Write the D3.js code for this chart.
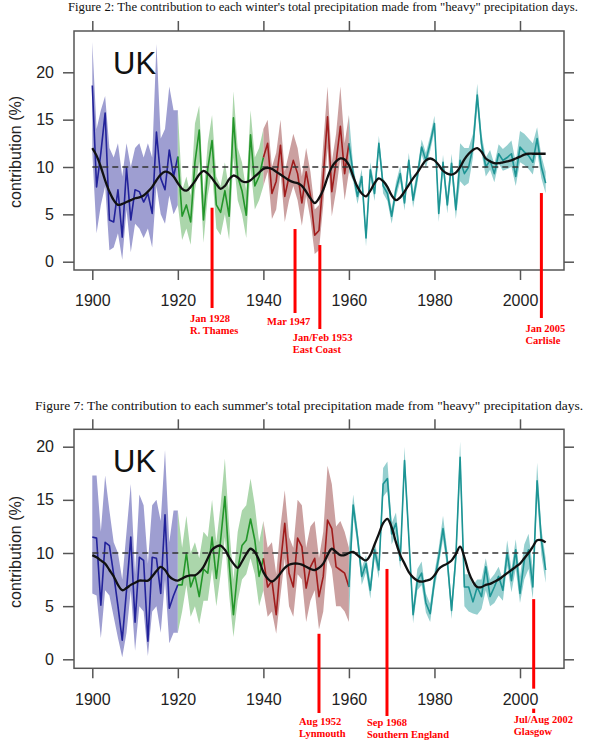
<!DOCTYPE html>
<html><head><meta charset="utf-8">
<script src="https://cdn.jsdelivr.net/npm/d3@7"></script>
<style>body{margin:0;background:#fff}svg{display:block}</style>
</head><body>
<svg id="c" width="590" height="750"></svg>
<script>
// ---------------- DATA ----------------
const firstYear = 1900;
const periodBreaks = [1900, 1920, 1940, 1960, 2006];
const xTicks = [1900, 1920, 1940, 1960, 1980, 2000];
const yTicks = [0, 5, 10, 15, 20];
const refLevel = 10;
const refEnd = 2005;

// Winter (Figure 2), one value per year 1900-2006
const winterValue = [
  18.6, 7.9, 11.5, 15.7, 4.4, 4.2, 7.6, 2.6, 9.9, 4.4, 7.6, 7.4, 6.3, 7.2, 5.1, 13.7, 8.8, 7.6, 11.8, 9.0, 11.1,
  4.8, 6.0, 4.2, 10.5, 13.9, 4.4, 9.8, 12.8, 6.0, 5.2, 7.5, 4.8, 15.2, 9.0, 7.5, 4.9, 13.4, 8.0, 9.0, 11.0,
  12.5, 7.2, 8.5, 12.3, 6.9, 9.0, 10.7, 9.3, 6.2, 9.5, 7.0, 2.8, 3.3, 9.0, 15.3, 7.4, 10.5, 14.3, 9.3, 12.5,
  9.3, 6.9, 9.0, 2.5, 9.7, 7.2, 12.5, 8.0, 7.2, 4.8, 7.6, 9.3, 6.2, 10.7, 6.5, 9.0, 12.1, 10.7, 12.5, 14.6,
  5.1, 10.5, 6.0, 10.4, 5.5, 10.7, 9.3, 10.0, 12.1, 17.6, 12.5, 10.0, 10.7, 9.3, 11.4, 10.7, 11.0, 11.4, 9.0, 12.1,
  11.6, 11.2, 10.5, 13.0, 10.0, 8.3
];
const winterHi = [
  23.2, 14, 16, 17.5, 12, 11, 12.5, 9, 12.5, 10, 12, 12.5, 11, 12.5, 11, 23, 13, 14, 18.5, 16, 16,
  7.5, 9.0, 7.0, 14.6, 16.5, 7.0, 12.5, 15.5, 9.0, 8.0, 10.5, 7.5, 18.0, 12.0, 10.5, 7.5, 16.0, 11.0, 12.0, 14.0,
  15.0, 10.0, 11.5, 15.0, 9.5, 11.5, 13.5, 12.0, 9.0, 12.0, 9.5, 5.5, 6.0, 12.5, 18.5, 10.5, 13.5, 18.5, 12.5, 15.5,
  10.1, 7.7, 9.8, 3.4, 10.5, 8.0, 13.3, 8.8, 8.0, 5.6, 8.4, 10.1, 7.0, 11.5, 7.3, 9.8, 12.9, 11.5, 13.3, 15.4,
  6.0, 11.3, 6.9, 11.4, 6.6, 12.5, 12.0, 12.0, 13.5, 18.8, 13.5, 11.0, 11.8, 10.3, 12.4, 11.9, 12.3, 12.8, 10.5, 13.8,
  13.5, 13.0, 12.5, 14.2, 11.2, 9.5
];
const winterLo = [
  11.5, 3, 6, 8, 1.2, 1.5, 3, 0.2, 5.5, 1, 4, 3.5, 2.5, 3.5, 1.5, 8, 5, 4, 7, 5, 6,
  2.3, 3.5, 1.8, 7.5, 10.5, 2.0, 7.0, 9.5, 3.5, 2.8, 5.0, 2.3, 11.0, 6.5, 5.0, 2.5, 10.0, 5.5, 6.5, 8.0,
  9.5, 4.5, 5.5, 9.5, 4.2, 6.5, 8.0, 6.5, 3.8, 7.0, 4.5, 0.8, 1.2, 6.0, 12.0, 4.8, 7.5, 11.0, 6.5, 9.5,
  8.5, 6.1, 8.2, 1.6, 8.9, 6.4, 11.7, 7.2, 6.4, 4.0, 6.8, 8.5, 5.4, 9.9, 5.7, 8.2, 11.3, 9.9, 11.7, 13.8,
  4.2, 9.7, 5.1, 9.4, 4.5, 8.5, 8.0, 8.3, 11.0, 16.4, 11.5, 9.0, 9.7, 8.4, 10.4, 9.6, 9.8, 10.0, 8.0, 10.5,
  10.2, 9.8, 9.2, 11.6, 8.8, 7.2
];
const winterSmooth = [
  12.0, 11.2, 10.0, 8.6, 7.4, 6.5, 6.0, 6.1, 6.3, 6.5,
  6.7, 6.8, 7.0, 7.4, 7.9, 8.6, 9.2, 9.5, 9.4, 9.0,
  8.3, 7.7, 7.5, 7.9, 8.5, 9.2, 9.6, 9.3, 8.8, 8.2,
  7.7, 8.0, 8.7, 9.1, 8.9, 8.5, 8.4, 8.6, 9.0, 9.4,
  9.8, 9.9, 9.8, 9.5, 9.2, 8.9, 8.6, 8.4, 8.3, 8.0,
  7.4, 6.7, 6.2, 6.7, 7.6, 8.9, 10.0, 10.6, 10.9, 10.8,
  10.2, 9.0, 7.9, 7.2, 6.9, 7.5, 8.3, 8.8, 8.5, 7.9,
  7.0, 6.5, 6.8, 7.4, 8.1, 8.8, 9.4, 10.1, 10.7, 10.9,
  10.7, 10.2, 9.6, 9.3, 9.2, 9.4, 10.0, 10.8, 11.4, 11.8,
  12.0, 11.6, 10.9, 10.6, 10.4, 10.4, 10.5, 10.6, 10.7, 10.9,
  11.1, 11.3, 11.4, 11.4, 11.4, 11.4, 11.4
];
const winterEventDates = [1928.0, 1947.4, 1953.2, 2005.0];
const winterEventTops = [5.7, 3.45, 1.76, 7.25];
const winterEventLabels = [["Jan 1928", "R. Thames"], ["Mar 1947"], ["Jan/Feb 1953", "East Coast"], ["Jan 2005", "Carlisle"]];

// Summer (Figure 7), one value per year 1900-2006
const summerValue = [
  11.5, 11.4, 5.1, 11.0, 10.7, 8.0, 5.0, 1.8, 6.5, 11.5, 3.5, 9.6, 9.3, 1.7, 9.6, 9.5, 6.2, 13.6, 4.8, 6.0, 7.0,
  7.0, 10.0, 6.8, 7.9, 5.9, 8.5, 8.1, 11.5, 7.6, 11.2, 15.3, 9.0, 4.2, 8.4, 10.7, 11.2, 13.2, 11.2, 7.8, 9.5,
  6.8, 7.4, 4.2, 9.0, 12.8, 8.1, 6.8, 11.4, 10.6, 6.7, 8.7, 9.5, 5.9, 7.8, 13.1, 12.3, 8.7, 8.4, 8.1, 6.8,
  14.5, 11.5, 7.8, 9.0, 6.5, 10.3, 8.4, 16.5, 17.0, 11.8, 12.8, 9.3, 18.7, 11.5, 4.2, 7.4, 8.1, 5.3, 4.3, 7.4,
  9.6, 12.3, 9.3, 4.6, 9.6, 19.0, 6.8, 6.8, 5.4, 6.8, 5.9, 8.7, 5.9, 6.8, 7.8, 6.5, 10.0, 7.4, 10.3, 6.2,
  9.3, 10.3, 6.8, 16.8, 11.2, 8.4
];
const summerHi = [
  17.3, 17.3, 12, 17.3, 14, 11, 10, 7.5, 12, 16.5, 8, 15.5, 14.5, 9, 14.5, 15, 13, 19.7, 11, 14, 14,
  10.5, 13.5, 10.0, 11.0, 9.5, 12.0, 11.5, 15.0, 11.0, 14.5, 18.9, 12.5, 7.5, 12.0, 14.0, 14.5, 17.0, 14.5, 11.0, 13.0,
  10.5, 11.0, 8.0, 12.5, 15.9, 11.5, 10.5, 15.0, 14.5, 10.5, 12.5, 13.0, 9.5, 12.0, 18.2, 16.5, 12.5, 13.0, 12.0, 10.5,
  15.5, 12.3, 8.6, 9.8, 7.3, 11.1, 9.2, 18.0, 18.6, 12.8, 13.8, 10.1, 20.0, 12.3, 5.0, 8.5, 9.2, 6.2, 5.2, 8.2,
  10.5, 13.5, 10.2, 5.5, 10.6, 20.5, 8.0, 8.0, 7.0, 7.5, 7.5, 9.5, 7.5, 8.0, 8.7, 7.5, 11.2, 8.5, 11.3, 7.8,
  10.8, 11.8, 8.5, 18.5, 12.3, 9.5
];
const summerLo = [
  6.2, 6, 2, 6.5, 6, 4, 2, 0.2, 2.5, 6.5, 0.8, 5, 4.5, 0.3, 4.5, 5, 2.5, 7.5, 1.5, 2.5, 2.5,
  4.5, 7.0, 4.0, 5.0, 3.3, 5.5, 5.5, 8.5, 5.0, 8.0, 11.5, 6.0, 2.1, 5.5, 7.5, 8.0, 9.5, 8.0, 5.0, 6.5,
  4.0, 4.5, 2.4, 6.0, 9.5, 5.0, 4.0, 8.0, 7.5, 3.5, 5.5, 6.5, 2.8, 4.5, 9.5, 8.5, 5.0, 5.0, 4.5, 3.5,
  13.5, 10.7, 7.0, 8.2, 5.7, 9.5, 7.6, 15.3, 15.8, 10.8, 11.8, 8.5, 17.5, 10.7, 3.4, 6.5, 7.0, 4.4, 3.5, 6.6,
  8.8, 11.3, 8.4, 3.8, 8.6, 17.6, 5.0, 4.5, 4.3, 4.2, 4.7, 6.5, 5.0, 5.3, 6.0, 5.5, 8.8, 6.3, 8.5, 5.3,
  7.5, 8.5, 5.7, 15.2, 9.8, 7.2
];
const summerSmooth = [
  9.8, 9.6, 9.3, 9.0, 8.4, 7.8, 7.0, 6.5, 6.7, 7.0,
  7.2, 7.4, 7.4, 7.4, 7.8, 8.3, 8.7, 8.4, 7.8, 7.5,
  7.4, 7.6, 7.8, 7.9, 7.9, 8.2, 8.7, 9.5, 10.3, 10.6,
  10.7, 10.3, 9.6, 9.0, 8.6, 9.2, 9.9, 10.4, 10.1, 9.3,
  8.2, 7.6, 7.3, 7.6, 8.1, 8.6, 8.9, 9.0, 9.0, 8.9,
  8.7, 8.5, 8.4, 8.6, 9.0, 9.8, 10.4, 10.1, 9.8, 9.8,
  10.0, 10.1, 9.8, 9.5, 9.3, 9.8, 10.8, 11.8, 12.8, 13.2,
  12.4, 11.0, 9.8, 9.0, 8.2, 7.7, 7.4, 7.3, 7.4, 7.5,
  7.9, 8.5, 8.8, 9.0, 9.3, 9.9, 10.6, 9.6, 8.2, 7.3,
  6.8, 6.8, 7.0, 7.1, 7.3, 7.5, 7.8, 8.1, 8.4, 8.7,
  9.0, 9.5, 10.0, 10.6, 11.2, 11.2, 11.0
];
const summerEventDates = [1953.0, 1968.9, 2003.2];
const summerEventTops = [2.4, 8.5, 5.66];
const summerEventLabels = [["Aug 1952", "Lynmouth"], ["Sep 1968", "Southern England"], ["Jul/Aug 2002", "Glasgow"]];

// ---------------- STYLE / LAYOUT ----------------
const periodLine = ["#22229a", "#23962a", "#a01c1c", "#1c9494"];
const periodBand = ["#9e9ed1", "#abd6ab", "#cba0a0", "#95cfcf"];
const frameColor = "#555";
const sans = "'Liberation Sans', Arial, Helvetica, sans-serif";
const serif = "'Liberation Serif', 'Times New Roman', serif";

const svg = d3.select("#c");

function drawChart(c) {
  const g = svg.append("g");
  const x = d3.scaleLinear().domain([1900, 2000]).range([92.3, 520]);
  const y = d3.scaleLinear().domain([0, 20]).range([c.y0, c.y20]);
  const yr = i => firstYear + i;

  // title
  g.append("text").attr("x", c.titleX).attr("y", c.titleY)
    .attr("text-anchor", "middle").attr("font-family", serif)
    .attr("font-size", c.titleSize).attr("fill", "#111")
    .attr("textLength", c.titleLen).attr("lengthAdjust", "spacingAndGlyphs")
    .text(c.title);

  // bands
  for (let p = 0; p < 4; p++) {
    const idx = d3.range(periodBreaks[p] - firstYear, periodBreaks[p + 1] - firstYear + 1);
    g.append("path").datum(idx).attr("fill", periodBand[p])
      .attr("d", d3.area().x(i => x(yr(i))).y0(i => y(c.lo[i])).y1(i => y(c.hi[i])));
  }
  // lines
  for (let p = 0; p < 4; p++) {
    const idx = d3.range(periodBreaks[p] - firstYear, periodBreaks[p + 1] - firstYear + 1);
    g.append("path").datum(idx).attr("fill", "none").attr("stroke", periodLine[p])
      .attr("stroke-width", 1.6).attr("stroke-linejoin", "round")
      .attr("d", d3.line().x(i => x(yr(i))).y(i => y(c.values[i])));
  }
  // reference dashed line
  g.append("line").attr("x1", x(firstYear)).attr("x2", x(refEnd))
    .attr("y1", y(refLevel)).attr("y2", y(refLevel))
    .attr("stroke", "#333").attr("stroke-width", 1.5).attr("stroke-dasharray", "6,4");
  // smooth
  g.append("path").datum(c.smooth).attr("fill", "none").attr("stroke", "#111")
    .attr("stroke-width", 2.3)
    .attr("d", d3.line().curve(d3.curveCatmullRom).x((d, i) => x(yr(i))).y(d => y(d)));

  // frame
  g.append("rect").attr("x", 74).attr("y", c.boxTop).attr("width", 490)
    .attr("height", c.boxBottom - c.boxTop).attr("fill", "none")
    .attr("stroke", frameColor).attr("stroke-width", 1.5);

  // red event lines
  c.eventDates.forEach((d, k) => {
    g.append("line").attr("x1", x(d)).attr("x2", x(d))
      .attr("y1", y(c.eventTops[k])).attr("y2", c.eventLayout[k].bottom)
      .attr("stroke", "#ff0000").attr("stroke-width", 3);
    c.eventLabels[k].forEach((t, j) => {
      g.append("text").attr("x", x(d) + c.eventLayout[k].dx)
        .attr("y", c.eventLayout[k].ty + j * 12)
        .attr("font-family", serif).attr("font-weight", "bold")
        .attr("font-size", 10.5).attr("fill", "#ff0000").text(t);
    });
  });

  // axes
  const styleAxis = sel => {
    sel.select(".domain").remove();
    sel.selectAll(".tick line").attr("stroke", frameColor).attr("stroke-width", 1.5);
    sel.selectAll(".tick text").attr("font-family", sans).attr("font-size", 16).attr("fill", "#222");
  };
  const bx = g.append("g").attr("transform", `translate(0,${c.boxBottom})`)
    .call(d3.axisBottom(x).tickValues(xTicks).tickFormat(d3.format("d")).tickSize(10).tickPadding(15));
  styleAxis(bx);
  bx.selectAll(".tick").each(function () {
    const t = d3.select(this);
    const bb = t.select("text").node().getBBox();
    t.insert("rect", "text").attr("x", bb.x - 1).attr("y", bb.y - 2)
      .attr("width", bb.width + 2).attr("height", bb.height + 3).attr("fill", "#fff");
  });
  const tx = g.append("g").attr("transform", `translate(0,${c.boxTop})`)
    .call(d3.axisTop(x).tickValues(xTicks).tickFormat("").tickSize(10));
  styleAxis(tx);
  const ly = g.append("g").attr("transform", "translate(74,0)")
    .call(d3.axisLeft(y).tickValues(yTicks).tickSize(11).tickPadding(9));
  styleAxis(ly);
  const ry = g.append("g").attr("transform", "translate(564,0)")
    .call(d3.axisRight(y).tickValues(yTicks).tickFormat("").tickSize(10));
  styleAxis(ry);

  // y label
  g.append("text").attr("transform", `translate(21,${c.ylabY}) rotate(-90)`)
    .attr("text-anchor", "middle").attr("font-family", sans).attr("font-size", 16)
    .attr("fill", "#222").text("contribution (%)");
  // UK
  g.append("text").attr("x", 113).attr("y", c.ukY).attr("font-family", sans)
    .attr("font-size", 31).attr("fill", "#111").text("UK");
}

drawChart({
  title: "Figure 2: The contribution to each winter's total precipitation made from \"heavy\" precipitation days.",
  titleX: 323, titleY: 10.5, titleSize: 12.5, titleLen: 510,
  values: winterValue, hi: winterHi, lo: winterLo, smooth: winterSmooth,
  y0: 261.7, y20: 72.3, boxTop: 31, boxBottom: 270, ylabY: 152, ukY: 73.5,
  eventDates: winterEventDates, eventTops: winterEventTops, eventLabels: winterEventLabels,
  eventLayout: [{dx: -22, bottom: 308, ty: 321.7}, {dx: -28, bottom: 313, ty: 325},
                {dx: -27, bottom: 329, ty: 341}, {dx: -16, bottom: 318, ty: 331.7}]
});
drawChart({
  title: "Figure 7: The contribution to each summer's total precipitation made from \"heavy\" precipitation days.",
  titleX: 309, titleY: 409.5, titleSize: 13, titleLen: 548,
  values: summerValue, hi: summerHi, lo: summerLo, smooth: summerSmooth,
  y0: 659.3, y20: 446.7, boxTop: 429.3, boxBottom: 668.3, ylabY: 552, ukY: 471.5,
  eventDates: summerEventDates, eventTops: summerEventTops, eventLabels: summerEventLabels,
  eventLayout: [{dx: -20, bottom: 713, ty: 725}, {dx: -20, bottom: 716, ty: 726},
                {dx: -20, bottom: 713, ty: 723.3}]
});
</script>
</body></html>
